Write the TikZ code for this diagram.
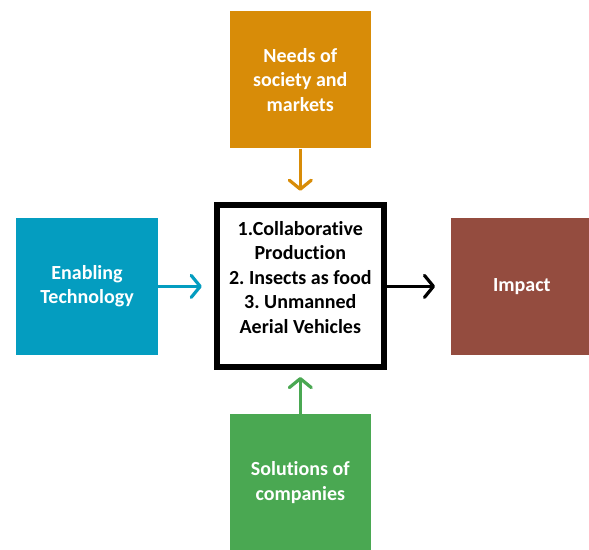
\documentclass[tikz,border=0pt]{standalone}
\usepackage{fontspec}
\setmainfont{Carlito}[Ligatures=NoCommon]
\usepackage{xcolor}
\usepackage{tikz}
\usetikzlibrary{arrows.meta,calc}

\definecolor{needsorange}{RGB}{216,140,8}
\definecolor{techblue}{RGB}{4,157,192}
\definecolor{impactbrown}{RGB}{148,76,63}
\definecolor{solgreen}{RGB}{74,168,82}

\begin{document}
\frenchspacing
\begin{tikzpicture}[x=1pt, y=1pt,
    driver/.style={minimum width=141.5pt, minimum height=137.5pt, inner sep=0pt,
      text=white, align=center, font=\bfseries\fontsize{20}{24.5}\selectfont},
    midbox/.style={draw=black, line width=6pt, fill=white,
      minimum width=167pt, minimum height=162pt, inner sep=0pt},
    midtext/.style={align=center, font=\bfseries\fontsize{20}{24.5}\selectfont},
    flow/.style={line width=3.2pt, -{Straight Barb[length=9pt, width=22pt, line cap=round, line join=round]}}]
    \useasboundingbox (0,0) rectangle (589,549);
    % four drivers round the three cases
    \node[driver, fill=needsorange] (needs) at (300.3,469.3) {Needs of\\society and\\markets};
    \node[driver, fill=techblue] (tech) at (87,262.6) {Enabling\\Technology};
    \node[driver, fill=impactbrown] (impact) at (521.8,262.6) {Impact};
    \node[driver, fill=solgreen] (solutions) at (300.3,66.3) {Solutions of\\companies};
    \node[midbox] (mid) at (300.3,262.6) {};
    \node[midtext] (cases) at ([yshift=9]mid.center) {1.Collaborative\\Production\\2. Insects as food\\3. Unmanned\\Aerial Vehicles};
    \draw[flow, needsorange] (needs.south) -- ([yshift=11.6]mid.north);
    \draw[flow, techblue] (tech.east) -- ([xshift=-12]mid.west);
    \draw[flow, solgreen] (solutions.north) -- ([yshift=-6.6]mid.south);
    \draw[flow, black] (mid.east) -- ([xshift=-15.8]impact.west);
\end{tikzpicture}
\end{document}
